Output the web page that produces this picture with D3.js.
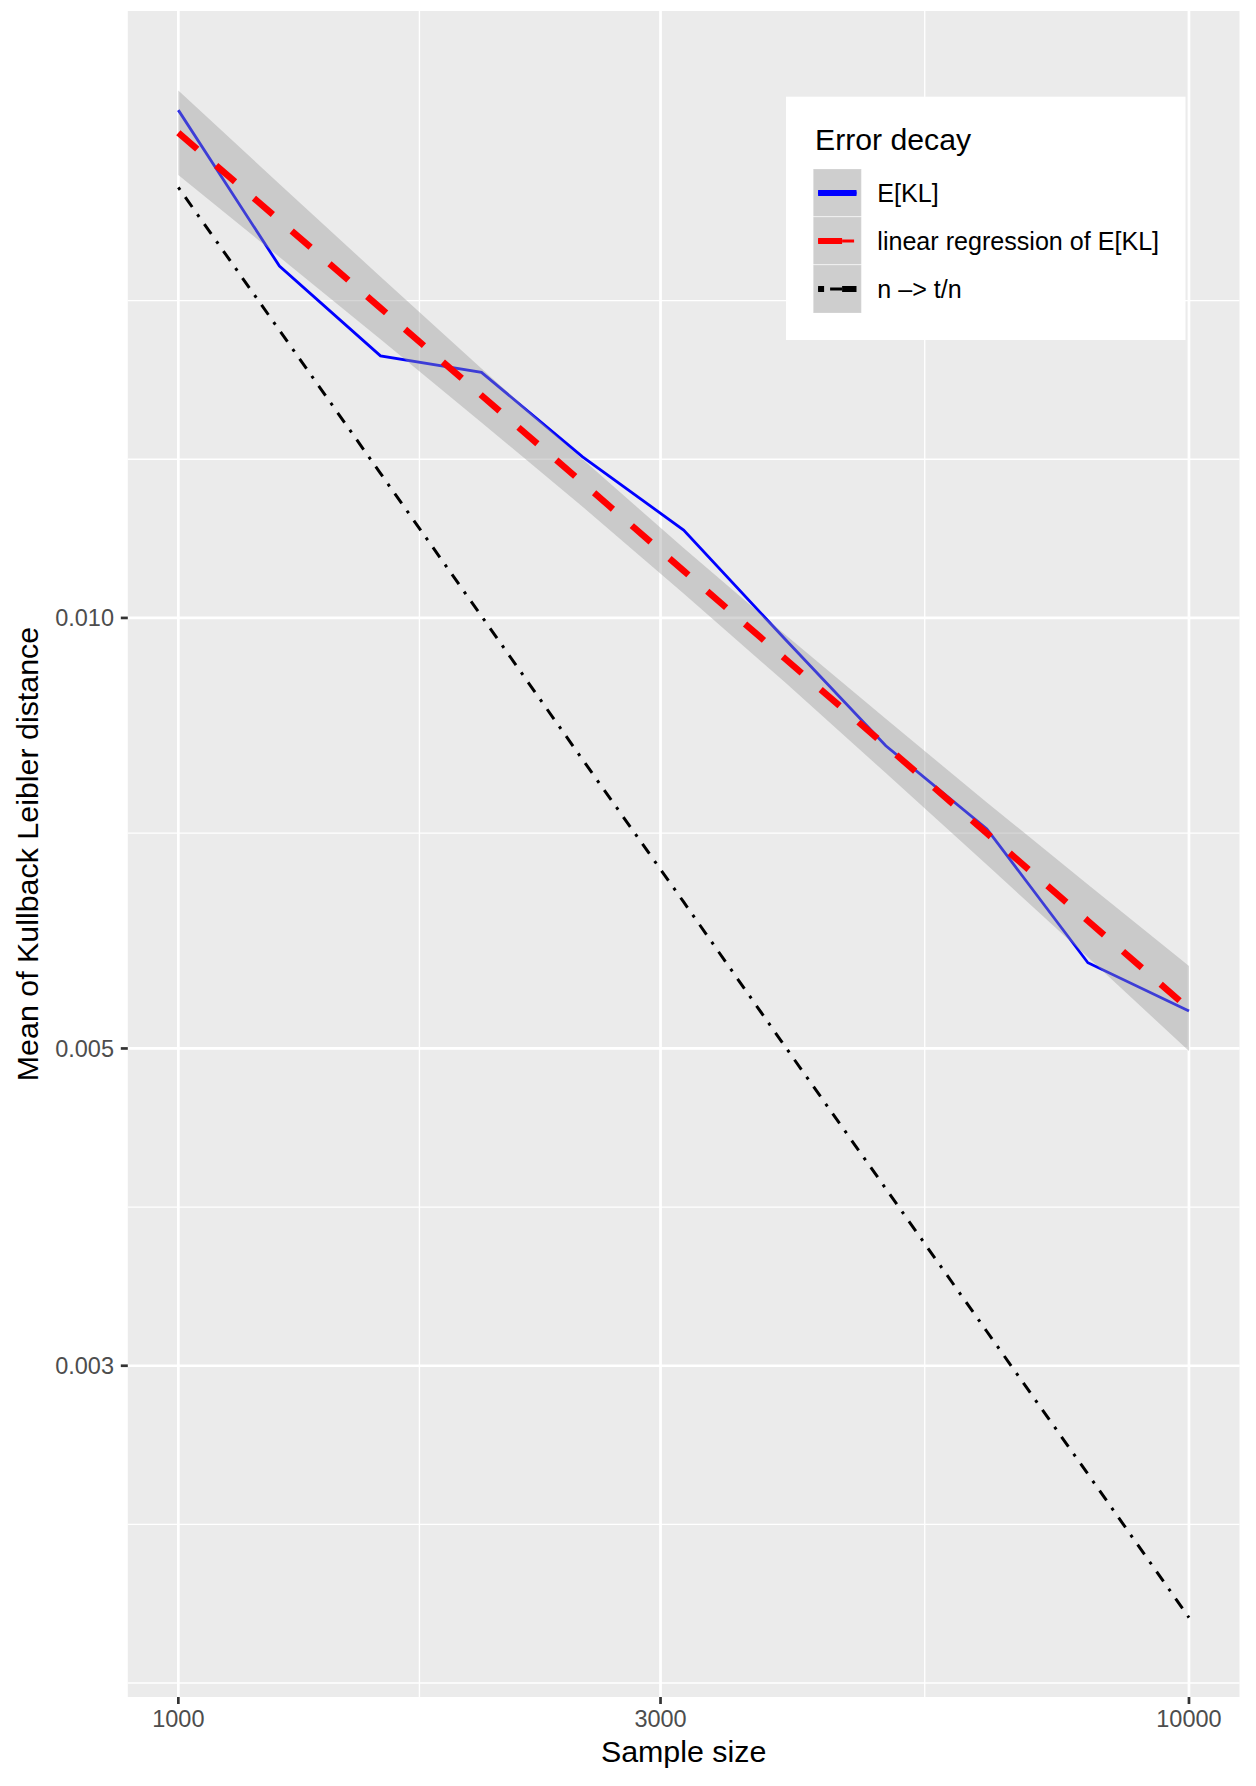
<!DOCTYPE html>
<html>
<head>
<meta charset="utf-8">
<script src="https://cdn.jsdelivr.net/npm/d3@7"></script>
<style>
  body { margin: 0; background: #fff; }
  svg { display: block; font-family: "Liberation Sans", Arial, Helvetica, sans-serif; }
</style>
</head>
<body>
<svg id="chart"></svg>
<script>
// sample sizes (log-spaced) and the measured mean KL distance
const sampleSizes = [1000, 1259, 1585, 1995, 2512, 3162, 3981, 5012, 6310, 7943, 10000];
const meanKL = [0.02265, 0.01762, 0.01525, 0.01485, 0.01296, 0.01152, 0.00967, 0.00814, 0.00712, 0.00574, 0.00531];
// regression of E[KL] (log-log) and its confidence band
const fitKL    = [0.02184, 0.01897, 0.01647, 0.01431, 0.01243, 0.01079, 0.00937, 0.00814, 0.00707, 0.00614, 0.00533];
const fitLower = [0.02040, 0.01788, 0.01566, 0.01370, 0.01196, 0.01040, 0.00902, 0.00779, 0.00672, 0.00579, 0.00498];
const fitUpper = [0.02338, 0.02011, 0.01732, 0.01494, 0.01291, 0.01119, 0.00974, 0.00850, 0.00743, 0.00651, 0.00571];
// reference curve n -> t/n
const tOverN = [0.02000, 0.01589, 0.01262, 0.01003, 0.00796, 0.00633, 0.00502, 0.00399, 0.00317, 0.00252, 0.00200];

const xTicks = [1000, 3000, 10000];
const yTicks = [0.003, 0.005, 0.010];
const legendTitle = "Error decay";
const legendLabels = ["E[KL]", "linear regression of E[KL]", "n \u2013> t/n"];

const W = 1256, H = 1786;
const panel = { left: 127.8, right: 1239.5, top: 11, bottom: 1697 };

const svg = d3.select("#chart").attr("width", W).attr("height", H);

// log domain with padding like ggplot's expansion
function expandLog(lo, hi, f) {
  const a = Math.log10(lo), b = Math.log10(hi), pad = (b - a) * f;
  return [Math.pow(10, a - pad), Math.pow(10, b + pad)];
}
const allY = meanKL.concat(fitLower, fitUpper, tOverN);
const x = d3.scaleLog().domain(expandLog(d3.min(sampleSizes), d3.max(sampleSizes), 0.05)).range([panel.left, panel.right]);
const y = d3.scaleLog().domain(expandLog(d3.min(allY), d3.max(allY), 0.052)).range([panel.bottom, panel.top]);

// minor breaks: midpoints between majors (in log space), extended one step outside
function minorBreaks(majors, domain) {
  const b = majors.map(Math.log10);
  const lo = Math.log10(domain[0]), hi = Math.log10(domain[1]);
  const bd = b[1] - b[0];
  if (lo < b[0]) b.unshift(b[0] - bd);
  if (hi > b[b.length - 1]) b.push(b[b.length - 1] + bd);
  const out = [];
  for (let i = 0; i < b.length - 1; i++) out.push(b[i], (b[i] + b[i + 1]) / 2);
  out.push(b[b.length - 1]);
  return out.filter(v => v >= lo && v <= hi).map(v => Math.pow(10, v));
}

// panel
svg.append("rect")
  .attr("x", panel.left).attr("y", panel.top)
  .attr("width", panel.right - panel.left).attr("height", panel.bottom - panel.top)
  .attr("fill", "#EBEBEB");

const grid = svg.append("g");
grid.selectAll(".ymin").data(minorBreaks(yTicks, y.domain())).enter().append("line")
  .attr("x1", panel.left).attr("x2", panel.right)
  .attr("y1", d => y(d)).attr("y2", d => y(d))
  .attr("stroke", "#fff").attr("stroke-width", 1.35);
grid.selectAll(".xmin").data(minorBreaks(xTicks, x.domain())).enter().append("line")
  .attr("y1", panel.top).attr("y2", panel.bottom)
  .attr("x1", d => x(d)).attr("x2", d => x(d))
  .attr("stroke", "#fff").attr("stroke-width", 1.35);
grid.selectAll(".ymaj").data(yTicks).enter().append("line")
  .attr("x1", panel.left).attr("x2", panel.right)
  .attr("y1", d => y(d)).attr("y2", d => y(d))
  .attr("stroke", "#fff").attr("stroke-width", 2.7);
grid.selectAll(".xmaj").data(xTicks).enter().append("line")
  .attr("y1", panel.top).attr("y2", panel.bottom)
  .attr("x1", d => x(d)).attr("x2", d => x(d))
  .attr("stroke", "#fff").attr("stroke-width", 2.7);

const pts = (vals) => sampleSizes.map((n, i) => ({ n: n, v: vals[i] }));
const line = d3.line().x(d => x(d.n)).y(d => y(d.v));

// E[KL]
svg.append("path").datum(pts(meanKL))
  .attr("d", line).attr("fill", "none")
  .attr("stroke", "#0000FF").attr("stroke-width", 2.8);

// confidence ribbon
const band = sampleSizes.map((n, i) => ({ n: n, lo: fitLower[i], hi: fitUpper[i] }));
svg.append("path").datum(band)
  .attr("d", d3.area().x(d => x(d.n)).y0(d => y(d.lo)).y1(d => y(d.hi)))
  .attr("fill", "#999999").attr("fill-opacity", 0.4);

// regression line
svg.append("path").datum(pts(fitKL))
  .attr("d", line).attr("fill", "none")
  .attr("stroke", "#FF0000").attr("stroke-width", 6.5)
  .attr("stroke-dasharray", "25,25");

// t/n
svg.append("path").datum(pts(tOverN))
  .attr("d", line).attr("fill", "none")
  .attr("stroke", "#000").attr("stroke-width", 3)
  .attr("stroke-dasharray", "3,9,12,9");

// axes
const axes = svg.append("g");
axes.selectAll(".xt").data(xTicks).enter().append("line")
  .attr("x1", d => x(d)).attr("x2", d => x(d))
  .attr("y1", panel.bottom).attr("y2", panel.bottom + 7)
  .attr("stroke", "#333").attr("stroke-width", 2.7);
axes.selectAll(".xl").data(xTicks).enter().append("text")
  .attr("x", d => x(d)).attr("y", 1727)
  .attr("text-anchor", "middle").attr("font-size", 23.5).attr("fill", "#4D4D4D")
  .text(d => d);
axes.selectAll(".yt").data(yTicks).enter().append("line")
  .attr("y1", d => y(d)).attr("y2", d => y(d))
  .attr("x1", panel.left - 7).attr("x2", panel.left)
  .attr("stroke", "#333").attr("stroke-width", 2.7);
axes.selectAll(".yl").data(yTicks).enter().append("text")
  .attr("x", 114).attr("y", d => y(d)).attr("dy", "0.36em")
  .attr("text-anchor", "end").attr("font-size", 23.5).attr("fill", "#4D4D4D")
  .text(d => d3.format(".3f")(d));

svg.append("text")
  .attr("x", (panel.left + panel.right) / 2).attr("y", 1762)
  .attr("text-anchor", "middle").attr("font-size", 30.4).attr("fill", "#000")
  .text("Sample size");
svg.append("text")
  .attr("transform", `translate(38,${(panel.top + panel.bottom) / 2}) rotate(-90)`)
  .attr("text-anchor", "middle").attr("font-size", 30.4).attr("fill", "#000")
  .text("Mean of Kullback Leibler distance");

// legend
const lg = svg.append("g").attr("transform", "translate(786,96.7)");
lg.append("rect").attr("width", 399.5).attr("height", 243.3).attr("fill", "#fff");
lg.append("text").attr("x", 29).attr("y", 53.5)
  .attr("font-size", 30.2).attr("fill", "#000").text(legendTitle);

const keySize = 48, keyX = 27.3, keyY = 72.3;
const keyStyles = [
  { color: "#0000FF", thin: null, thick: null },
  { color: "#FF0000", thin: "12,12", thick: "24,24" },
  { color: "#000000", thin: "3,9,12,9", thick: "6,18,24,18" }
];
const keys = lg.selectAll(".key").data(legendLabels).enter().append("g")
  .attr("transform", (d, i) => `translate(${keyX},${keyY + i * keySize})`);
keys.append("rect").attr("width", keySize).attr("height", keySize)
  .attr("fill", "#F2F2F2").attr("stroke", "#fff").attr("stroke-width", 1.2);
keys.append("rect").attr("width", keySize).attr("height", keySize)
  .attr("fill", "#999999").attr("fill-opacity", 0.4);
keys.append("line")
  .attr("x1", keySize * 0.1).attr("x2", keySize * 0.9)
  .attr("y1", keySize / 2).attr("y2", keySize / 2)
  .attr("stroke", (d, i) => keyStyles[i].color).attr("stroke-width", 3)
  .attr("stroke-dasharray", (d, i) => keyStyles[i].thin);
keys.append("line")
  .attr("x1", keySize * 0.1).attr("x2", keySize * 0.9)
  .attr("y1", keySize / 2).attr("y2", keySize / 2)
  .attr("stroke", (d, i) => keyStyles[i].color).attr("stroke-width", 6)
  .attr("stroke-dasharray", (d, i) => keyStyles[i].thick);
keys.append("text")
  .attr("x", 64).attr("y", keySize / 2).attr("dy", "0.36em")
  .attr("font-size", 25.1).attr("fill", "#000")
  .text(d => d);
</script>
</body>
</html>
